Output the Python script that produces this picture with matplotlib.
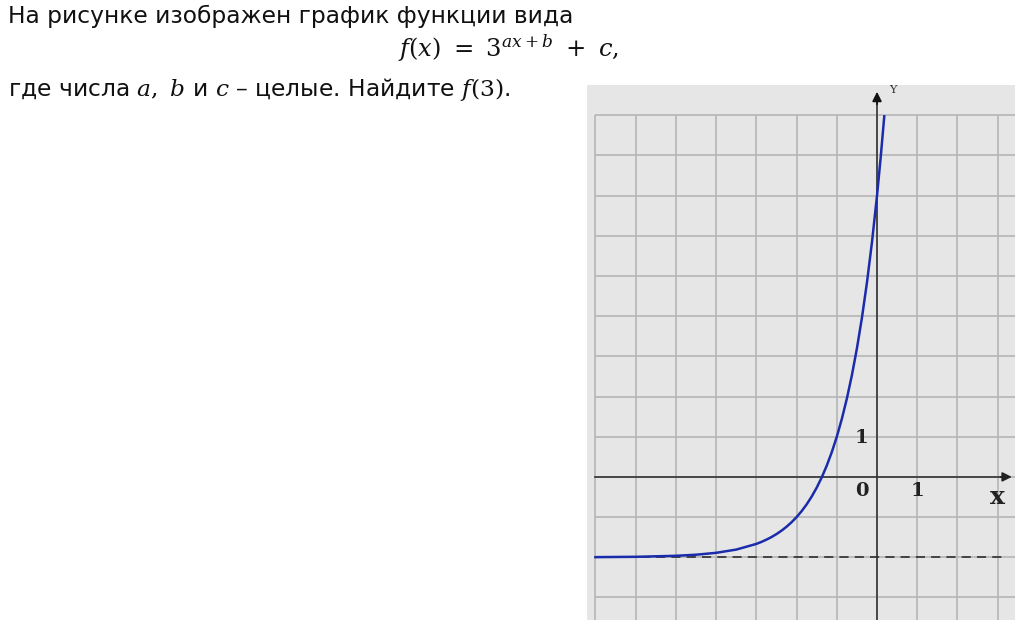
import matplotlib
matplotlib.use("Agg")
import matplotlib.pyplot as plt
import numpy as np

plt.rcParams['font.family'] = ['DejaVu Sans']
plt.rcParams['mathtext.fontset'] = 'dejavuserif'

# points (x, y)
curve_x = [-7, -6, -5, -4.5, -4, -3.5, -3, -2.875, -2.75, -2.625, -2.5, -2.375,
           -2.25, -2.125, -2, -1.875, -1.75, -1.625, -1.5, -1.375, -1.25, -1.125,
           -1, -0.875, -0.75, -0.625, -0.5, -0.375, -0.25, -0.125, 0, 0.09, 0.18]
curve_y = [-1.996, -1.988, -1.963, -1.936, -1.889, -1.808, -1.667, -1.618, -1.561,
           -1.497, -1.423, -1.338, -1.24, -1.128, -1.0, -0.853, -0.684, -0.49,
           -0.268, -0.013, 0.28, 0.615, 1.0, 1.442, 1.948, 2.529, 3.196, 3.961,
           4.839, 5.845, 7.0, 7.94, 8.97]
asymptote_y = -2
grid_x = list(range(-7, 4))
grid_y = list(range(-3, 10))

fig = plt.figure(figsize=(10.24, 6.29), dpi=100)
fig.patch.set_facecolor('white')

# problem text
fig.text(8/1024, 1 - 23/629, 'На рисунке изображен график функции вида',
         fontsize=16.8, va='baseline', color='#111111')
fig.text(398/1024, 1 - 57/629, r'$f(x)\ =\ 3^{ax+b}\ +\ c,$',
         fontsize=17.5, va='baseline', color='#111111')
fig.text(8/1024, 1 - 96/629, 'где числа $a,\\ b$ и $c$ – целые. Найдите $f(3)$.',
         fontsize=16.8, va='baseline', color='#111111')

ax = fig.add_axes([587/1024, 1 - 620/629, 428/1024, 535/629])
ax.set_facecolor('#e6e6e6')
ax.set_xlim(-7.21, 3.43)
ax.set_ylim(-3.56, 9.75)
for s in ax.spines.values():
    s.set_visible(False)
ax.set_xticks([])
ax.set_yticks([])

gc = '#b5b5b5'
ax.vlines(grid_x, -3.56, 9, color=gc, lw=1.2, zorder=1)
ax.hlines(grid_y, -7, 3.43, color=gc, lw=1.2, zorder=1)

# asymptote
ax.plot([-7, 3.1], [asymptote_y, asymptote_y], color='#222222', lw=1.1,
        dashes=(6, 4), zorder=2)

# axes with arrows
ax.plot([-7, 3.2], [0, 0], color='#333333', lw=1.2, zorder=3)
ax.plot([0, 0], [-3.56, 9.4], color='#333333', lw=1.2, zorder=3)
ax.annotate('', xy=(3.42, 0), xytext=(3.0, 0),
            arrowprops=dict(arrowstyle='-|>', color='#222222', lw=1.2,
                            mutation_scale=14), zorder=4)
ax.annotate('', xy=(0, 9.65), xytext=(0, 9.2),
            arrowprops=dict(arrowstyle='-|>', color='#111111', lw=1.2,
                            mutation_scale=14), zorder=4)

ax.plot(curve_x, curve_y, color='#1a2cab', lw=1.8, zorder=5)

serif = ['DejaVu Serif']
ax.text(0.3, 9.63, 'Y', fontsize=8, family=serif, color='#333333', va='center')
ax.text(-0.38, 0.98, '1', fontsize=14, family=serif, weight='bold', ha='center',
        va='center', color='#222222')
ax.text(-0.38, -0.35, '0', fontsize=14, family=serif, weight='bold', ha='center',
        va='center', color='#222222')
ax.text(1.0, -0.35, '1', fontsize=14, family=serif, weight='bold', ha='center',
        va='center', color='#222222')
ax.text(3.0, -0.5, 'x', fontsize=18, family=serif, weight='bold', ha='center',
        va='center', color='#222222')

fig.savefig('out.png', dpi=100)
